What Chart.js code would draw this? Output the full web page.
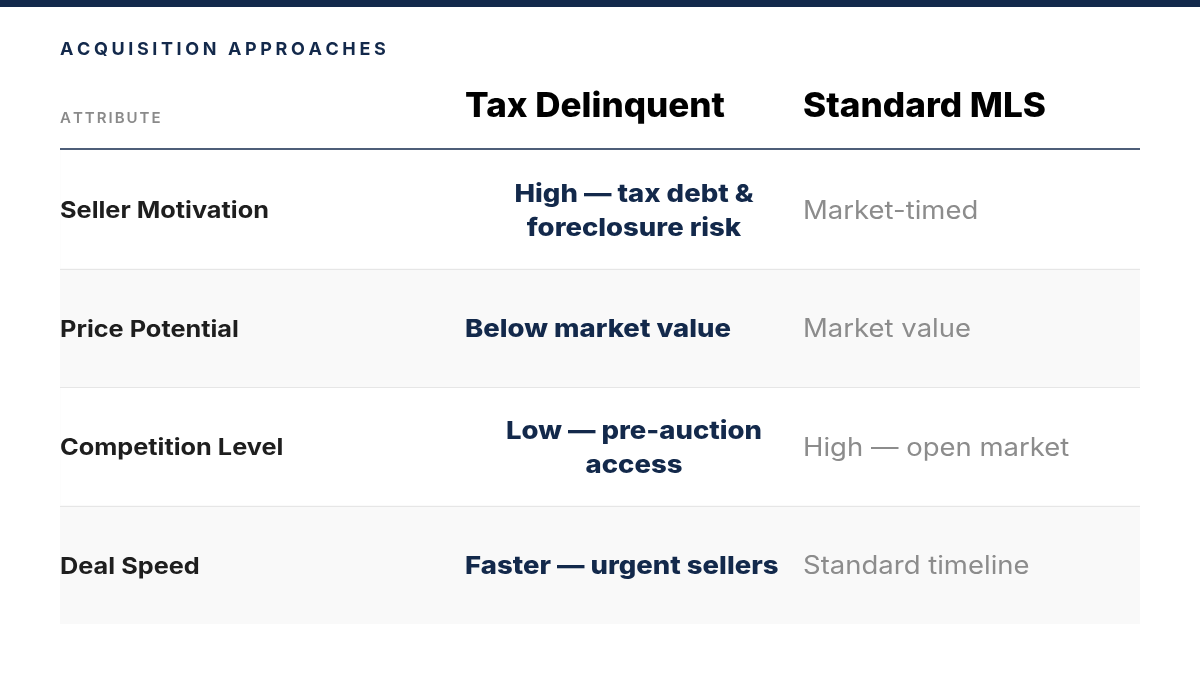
<!DOCTYPE html>
<html><head><meta charset="utf-8">
<script src="https://cdn.jsdelivr.net/npm/chart.js@4.4.0/dist/chart.umd.min.js"></script>
<style>html,body{margin:0;padding:0;background:#fff;}canvas{display:block;}</style>
</head><body>
<canvas id="c" width="1200" height="675"></canvas>
<script>
const title = "ACQUISITION APPROACHES";
const attrHeader = "ATTRIBUTE";
const columns = ["Tax Delinquent", "Standard MLS"];
const attributes = ["Seller Motivation", "Price Potential", "Competition Level", "Deal Speed"];
const taxDelinquent = [["High — tax debt &", "foreclosure risk"], ["Below market value"], ["Low — pre-auction", "access"], ["Faster — urgent sellers"]];
const standardMLS = ["Market-timed", "Market value", "High — open market", "Standard timeline"];
const rowShade = [0, 1, 0, 1];

const NAVY = "#13294b";
const FONT = "Inter, 'Helvetica Neue', Arial, sans-serif";

function spaced(ctx, text, x, y, sp) {
  let cx = x;
  for (const ch of text) { ctx.fillText(ch, cx, y); cx += ctx.measureText(ch).width + sp; }
}
function fitText(ctx, text, x, y, w) {
  // draw text horizontally scaled to width w (starting at x, left-aligned)
  const m = ctx.measureText(text).width;
  ctx.save(); ctx.translate(x, y); ctx.scale(w / m, 1); ctx.fillText(text, 0, 0); ctx.restore();
}

const tablePlugin = {
  id: "table",
  afterDatasetsDraw(chart) {
    const ctx = chart.ctx, y = chart.scales.y, a = chart.chartArea;
    const band = (a.bottom - a.top) / attributes.length;
    ctx.save();
    ctx.fillStyle = NAVY; ctx.fillRect(0, 0, 1200, 7);
    ctx.textBaseline = "middle"; ctx.textAlign = "left";
    ctx.fillStyle = NAVY; ctx.font = "700 18px " + FONT;
    spaced(ctx, title, 60, 50, 3.6);
    ctx.fillStyle = "#8a8a8a"; ctx.font = "600 15px " + FONT;
    spaced(ctx, attrHeader, 60, 118, 2.0);
    ctx.fillStyle = "#000"; ctx.font = "800 34px " + FONT;
    fitText(ctx, columns[0], 465, 107, 260);
    fitText(ctx, columns[1], 803, 107, 243);
    ctx.strokeStyle = NAVY; ctx.lineWidth = 1.5;
    ctx.beginPath(); ctx.moveTo(a.left, a.top - 1); ctx.lineTo(a.right, a.top - 1); ctx.stroke();
    ctx.strokeStyle = "#e6e6e6"; ctx.lineWidth = 1;
    for (let i = 0; i < attributes.length - 1; i++) {
      const yy = Math.round(y.getPixelForValue(i) + band / 2) + 0.5;
      ctx.beginPath(); ctx.moveTo(a.left, yy); ctx.lineTo(a.right, yy); ctx.stroke();
    }
    attributes.forEach((attr, i) => {
      const cy = y.getPixelForValue(i) + 2;
      ctx.textAlign = "left"; ctx.fillStyle = "#1e1e1e"; ctx.font = "700 23px " + FONT;
      const lw = ctx.measureText(attr).width * 1.1;
      fitText(ctx, attr, 60, cy, lw);
      const lines = taxDelinquent[i];
      ctx.fillStyle = NAVY; ctx.font = "800 25px " + FONT;
      if (lines.length === 1) {
        fitText(ctx, lines[0], 465, cy, ctx.measureText(lines[0]).width * 1.1);
      } else {
        lines.forEach((l, k) => {
          const w = ctx.measureText(l).width * 1.1;
          fitText(ctx, l, 634 - w / 2, cy - 17 + k * 34, w);
        });
      }
      ctx.fillStyle = "#8c8c8c"; ctx.font = "400 25px " + FONT;
      fitText(ctx, standardMLS[i], 803, cy, ctx.measureText(standardMLS[i]).width * 1.1);
    });
    ctx.restore();
  }
};

new Chart(document.getElementById("c"), {
  type: "bar",
  data: {
    labels: attributes,
    datasets: [{ data: rowShade, backgroundColor: "#f9f9f9", borderWidth: 0,
                 categoryPercentage: 1, barPercentage: 1 }]
  },
  options: {
    indexAxis: "y",
    responsive: false, animation: false, devicePixelRatio: 1,
    layout: { padding: { top: 150, bottom: 51, left: 60, right: 60 } },
    scales: {
      x: { display: false, min: 0, max: 1 },
      y: { display: false, offset: true }
    },
    plugins: { legend: { display: false }, tooltip: { enabled: false } }
  },
  plugins: [tablePlugin]
});
</script>
</body></html>
